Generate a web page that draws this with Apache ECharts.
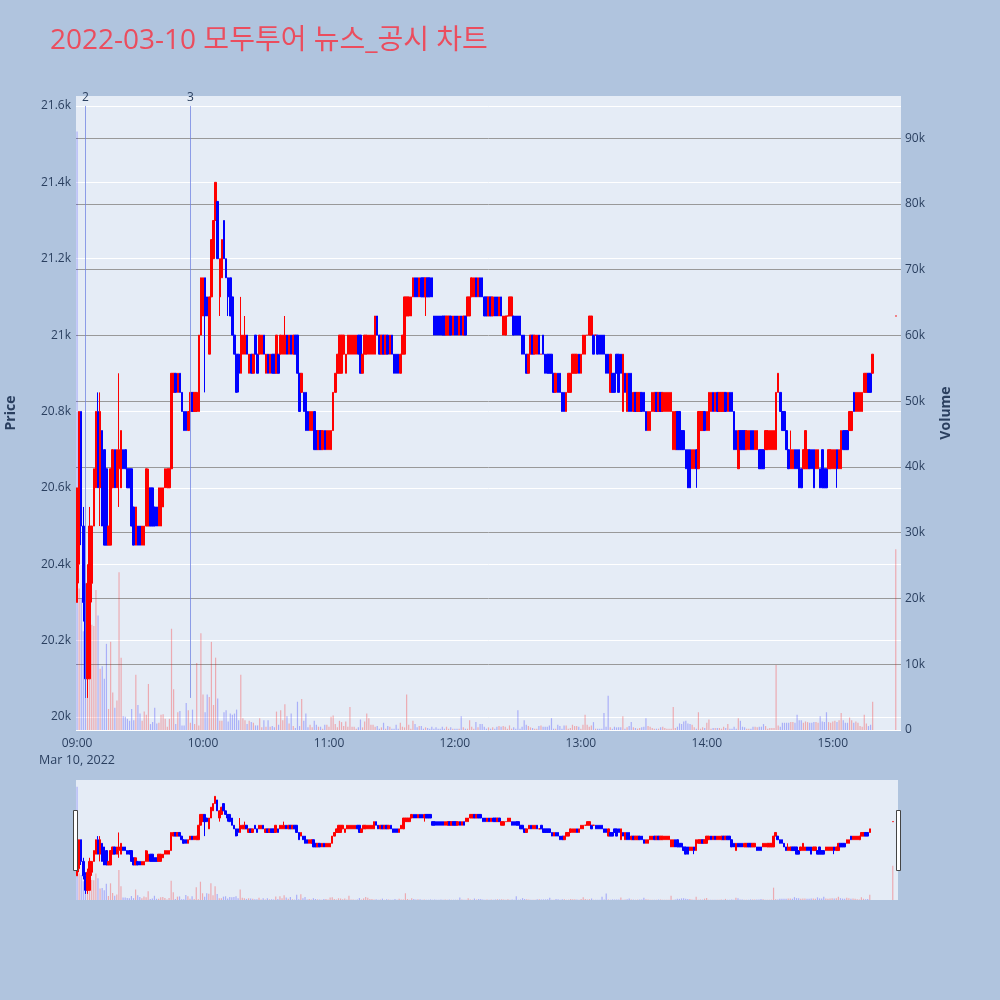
<!DOCTYPE html>
<html><head><meta charset="utf-8">
<script src="https://cdn.jsdelivr.net/npm/echarts@6/dist/echarts.min.js"></script>
<style>html,body{margin:0;padding:0;background:#b0c4de}#c{width:1000px;height:1000px}</style>
</head><body><div id="c"></div>
<script>
// minute candles 09:00..15:19, then the 15:30 closing auction
const opens=[20300,20400,20800,20500,20300,20100,20100,20350,20500,20600,
20800,20600,20750,20700,20650,20450,20450,20600,20700,20600,
20650,20600,20700,20700,20650,20650,20650,20550,20450,20500,
20500,20450,20450,20500,20500,20600,20600,20550,20550,20500,
20500,20550,20600,20600,20600,20650,20850,20900,20850,20900,
20850,20800,20800,20750,20800,20850,20800,20800,20800,21000,
21050,21150,21100,20950,21100,21200,21300,21350,21100,21150,
21300,21200,21150,21150,21100,21000,20950,20950,20900,20950,
20950,21000,20900,20950,20900,21000,20950,20950,20950,21000,
20900,20950,20900,20950,20950,20900,20950,20950,20950,20950,
21000,20950,21000,20950,21000,21000,20900,20850,20850,20850,
20800,20750,20750,20800,20750,20700,20750,20700,20750,20700,
20700,20700,20750,20850,20900,20900,20900,20950,20900,20950,
20950,20950,20950,20950,21000,21000,20900,20950,20950,20950,
20950,20950,20950,21050,21000,20950,21000,20950,21000,20950,
21000,20950,20950,20950,20900,20950,20950,21050,21050,21050,
21100,21150,21150,21100,21150,21150,21100,21150,21150,21150,
21050,21050,21050,21050,21050,21050,21000,21000,21050,21000,
21050,21050,21000,21050,21000,21050,21050,21050,21100,21100,
21150,21100,21150,21150,21100,21100,21050,21100,21050,21100,
21100,21050,21100,21000,21000,21050,21050,21050,21050,21050,
21050,21050,21000,21000,20950,20900,20950,21000,20950,20950,
21000,20950,21000,20950,20950,20950,20950,20900,20850,20900,
20900,20850,20850,20800,20850,20850,20900,20900,20900,20950,
20900,20950,20950,21000,21000,21000,21000,21000,21000,21000,
21000,21000,20950,20950,20850,20900,20900,20950,20950,20950,
20800,20900,20800,20900,20900,20800,20850,20800,20800,20850,
20850,20800,20750,20750,20800,20800,20850,20800,20850,20800,
20800,20800,20800,20800,20700,20700,20800,20800,20750,20750,
20700,20700,20700,20650,20650,20700,20650,20750,20750,20800,
20750,20750,20800,20850,20800,20850,20800,20800,20800,20850,
20800,20850,20850,20800,20750,20650,20750,20750,20750,20700,
20700,20750,20750,20700,20700,20700,20700,20700,20700,20700,
20700,20700,20700,20700,20850,20850,20800,20800,20750,20700,
20650,20650,20700,20700,20700,20650,20650,20650,20650,20700,
20700,20700,20650,20650,20650,20700,20650,20650,20650,20650,
20650,20650,20700,20650,20650,20750,20750,20750,20750,20750,
20850,20800,20800,20800,20800,20850,20850,20900,20900,20900,
21050];
const closes=[20600,20800,20500,20300,20100,20350,20500,20500,20650,20800,
20600,20800,20500,20450,20450,20500,20650,20700,20600,20700,
20700,20750,20650,20650,20600,20600,20500,20450,20550,20450,
20450,20500,20500,20650,20600,20500,20500,20500,20500,20600,
20600,20600,20650,20650,20650,20900,20900,20850,20900,20850,
20800,20750,20750,20800,20850,20800,20850,20850,21000,21150,
21150,21050,21050,21100,21250,21300,21400,21200,21200,21250,
21200,21150,21100,21050,21000,20950,20850,20900,21000,21000,
21000,20950,20950,20900,20950,20950,20900,21000,21000,20950,
20950,20900,20950,20900,20900,21000,20900,21000,21000,21000,
20950,21000,20950,21000,20950,20900,20800,20900,20800,20750,
20750,20800,20800,20700,20700,20750,20700,20750,20700,20750,
20750,20750,20850,20900,20950,21000,21000,21000,20950,21000,
21000,21000,21000,21000,20950,20900,20950,21000,21000,21000,
21000,21000,21050,21000,20950,21000,20950,21000,20950,21000,
20950,20900,20900,20900,20950,21000,21100,21100,21100,21100,
21150,21100,21100,21150,21100,21100,21150,21100,21100,21100,
21000,21000,21000,21000,21000,21000,21050,21050,21000,21050,
21000,21000,21050,21000,21050,21000,21100,21100,21150,21150,
21100,21150,21100,21100,21050,21050,21100,21050,21100,21050,
21050,21100,21050,21050,21050,21050,21100,21100,21000,21000,
21000,21000,20950,20950,20900,20950,21000,20950,21000,21000,
20950,20950,20950,20900,20900,20900,20900,20850,20900,20850,
20850,20800,20800,20850,20900,20900,20950,20950,20950,20900,
20950,21000,21000,21000,21050,21050,20950,21000,20950,20950,
20950,20950,20900,20900,20950,20850,20850,20900,20850,20900,
20950,20850,20900,20800,20800,20850,20800,20850,20850,20800,
20800,20750,20800,20800,20850,20850,20800,20850,20800,20850,
20850,20850,20850,20850,20800,20800,20700,20700,20700,20700,
20650,20600,20600,20700,20700,20650,20800,20800,20800,20750,
20800,20850,20850,20800,20850,20800,20850,20850,20850,20800,
20850,20800,20800,20700,20700,20750,20700,20700,20700,20750,
20750,20700,20700,20750,20750,20650,20650,20650,20750,20750,
20750,20750,20750,20850,20900,20800,20750,20750,20700,20650,
20700,20700,20650,20650,20600,20600,20700,20750,20700,20650,
20650,20600,20700,20700,20600,20600,20600,20600,20700,20700,
20700,20700,20650,20700,20750,20700,20700,20700,20800,20800,
20800,20850,20850,20850,20850,20900,20900,20850,20850,20950,
21050];
const lows=[20300,20350,20450,20250,20050,20050,20100,20300,20500,20600,
20600,20500,20500,20450,20450,20450,20450,20600,20600,20600,
20550,20600,20650,20650,20600,20600,20500,20450,20450,20450,
20450,20450,20450,20500,20500,20500,20500,20500,20500,20500,
20500,20550,20600,20600,20600,20650,20850,20850,20850,20850,
20800,20750,20750,20750,20800,20800,20800,20800,20800,21000,
21050,20850,21050,20950,21100,21200,21300,21200,21050,21150,
21200,21150,21050,21050,21000,20950,20850,20850,20900,20950,
20950,20950,20900,20900,20900,20950,20900,20950,20950,20950,
20900,20900,20900,20900,20900,20900,20900,20950,20950,20950,
20950,20950,20950,20950,20950,20900,20800,20850,20800,20750,
20750,20750,20750,20700,20700,20700,20700,20700,20700,20700,
20700,20700,20750,20850,20900,20900,20900,20950,20900,20950,
20950,20950,20950,20950,20950,20900,20900,20950,20950,20950,
20950,20950,20950,21000,20950,20950,20950,20950,20950,20950,
20950,20900,20900,20900,20900,20950,20950,21050,21050,21050,
21100,21100,21100,21100,21100,21100,21050,21100,21100,21100,
21000,21000,21000,21000,21000,21000,21000,21000,21000,21000,
21000,21000,21000,21000,21000,21000,21050,21050,21100,21100,
21100,21100,21100,21100,21050,21050,21050,21050,21050,21050,
21050,21050,21050,21000,21000,21050,21050,21050,21000,21000,
21000,21000,20950,20950,20900,20900,20950,20950,20950,20950,
20950,20950,20950,20900,20900,20900,20900,20850,20850,20850,
20850,20800,20800,20800,20850,20850,20900,20900,20900,20900,
20900,20950,20950,21000,21000,21000,20950,21000,20950,20950,
20950,20950,20900,20900,20850,20850,20850,20900,20850,20900,
20800,20850,20800,20800,20800,20800,20800,20800,20800,20800,
20800,20750,20750,20750,20800,20800,20800,20800,20800,20800,
20800,20800,20800,20800,20700,20700,20700,20700,20700,20700,
20650,20600,20600,20650,20650,20600,20650,20750,20750,20750,
20750,20750,20800,20800,20800,20800,20800,20800,20800,20800,
20800,20800,20800,20700,20700,20650,20700,20700,20700,20700,
20700,20700,20700,20700,20700,20650,20650,20650,20700,20700,
20700,20700,20700,20700,20850,20800,20750,20750,20700,20650,
20650,20650,20650,20650,20600,20600,20650,20650,20650,20650,
20650,20600,20650,20650,20600,20600,20600,20600,20650,20650,
20650,20650,20600,20650,20650,20700,20700,20700,20750,20750,
20800,20800,20800,20800,20800,20850,20850,20850,20850,20900,
21050];
const highs=[20600,20800,20800,20550,20350,20400,20550,20500,20650,20800,
20850,20850,20750,20700,20650,20500,20650,20700,20700,20700,
20900,20750,20700,20700,20650,20650,20650,20550,20550,20500,
20500,20500,20500,20650,20650,20600,20600,20550,20550,20600,
20600,20600,20650,20650,20650,20900,20900,20900,20900,20900,
20850,20800,20800,20800,20850,20850,20850,20850,21000,21150,
21150,21150,21100,21100,21250,21300,21400,21350,21200,21250,
21300,21200,21150,21150,21100,21000,20950,20950,21100,21000,
21050,21000,20950,20950,20950,21000,20950,21000,21000,21000,
20950,20950,20950,20950,20950,21000,20950,21000,21000,21050,
21000,21000,21000,21000,21000,21000,20900,20900,20850,20850,
20800,20800,20800,20800,20750,20750,20750,20750,20750,20750,
20750,20750,20850,20900,20950,21000,21000,21000,20950,21000,
21000,21000,21000,21000,21000,21000,20950,21000,21000,21000,
21000,21000,21050,21050,21000,21000,21000,21000,21000,21000,
21000,20950,20950,20950,20950,21000,21100,21100,21100,21100,
21150,21150,21150,21150,21150,21150,21150,21150,21150,21150,
21050,21050,21050,21050,21050,21050,21050,21050,21050,21050,
21050,21050,21050,21050,21050,21050,21100,21100,21150,21150,
21150,21150,21150,21150,21100,21100,21100,21100,21100,21100,
21100,21100,21100,21050,21050,21050,21100,21100,21050,21050,
21050,21050,21000,21000,20950,20950,21000,21000,21000,21000,
21000,20950,21000,20950,20950,20950,20950,20900,20900,20900,
20900,20850,20850,20850,20900,20900,20950,20950,20950,20950,
20950,21000,21000,21000,21050,21050,21000,21000,21000,21000,
21000,21000,20950,20950,20950,20900,20900,20950,20950,20950,
20950,20900,20900,20900,20900,20850,20850,20850,20850,20850,
20850,20800,20800,20800,20850,20850,20850,20850,20850,20850,
20850,20850,20850,20850,20800,20800,20800,20800,20750,20750,
20700,20700,20700,20700,20700,20700,20800,20800,20800,20800,
20800,20850,20850,20850,20850,20850,20850,20850,20850,20850,
20850,20850,20850,20800,20750,20750,20750,20750,20750,20750,
20750,20750,20750,20750,20750,20700,20700,20700,20750,20750,
20750,20750,20750,20850,20900,20850,20800,20800,20750,20700,
20750,20700,20700,20700,20700,20650,20700,20750,20700,20700,
20700,20700,20700,20700,20650,20700,20650,20650,20700,20700,
20700,20700,20700,20700,20750,20750,20750,20750,20800,20800,
20850,20850,20850,20850,20850,20900,20900,20900,20900,20950,
21050];
const volumes=[91000,21500,20000,15000,17000,12000,8000,16000,15800,21300,
17400,9300,9700,7800,13100,3200,13400,5700,3400,4500,
24000,11000,2100,2000,1700,1400,3200,1500,8400,3800,
2500,1400,2800,2300,7000,900,1200,3400,1000,1100,
2300,2400,1700,500,1700,15400,6200,900,2700,2900,
700,700,4100,3000,1100,3100,900,10200,700,14700,
5400,2700,5400,5000,13400,3800,11000,4800,1400,1400,
2700,3000,1300,2500,2300,2500,3100,1500,8400,1800,
1500,900,1400,1200,1100,700,700,1800,400,1500,
500,1500,500,600,400,2800,800,3000,1500,3900,
2100,1000,2500,600,300,4300,600,4700,1400,2500,
400,800,400,1400,800,500,500,200,800,800,
500,2000,2200,900,400,1400,1200,600,1300,500,
3500,500,500,200,400,1600,400,1300,2500,1800,
800,800,500,600,200,400,1100,200,600,500,
200,200,800,200,1100,500,400,5400,800,200,
1400,900,400,600,600,200,400,300,200,500,
200,400,200,200,500,200,500,200,400,200,
200,200,200,2100,400,200,200,1500,500,200,
1200,400,900,900,500,200,400,200,400,200,
500,600,500,600,500,200,700,200,400,200,
3000,200,500,1500,800,600,400,300,200,200,
600,700,500,500,500,700,1800,200,200,800,
600,200,700,700,200,300,800,600,600,500,
200,800,2300,800,500,700,1200,200,200,200,
200,2600,500,5200,400,200,500,400,400,400,
2100,200,400,600,1200,400,300,200,300,400,
500,1800,600,500,300,200,200,200,400,500,
300,200,200,200,3500,300,500,1000,900,1300,
1400,1000,900,800,400,200,2700,200,400,300,
1100,1600,200,300,300,300,300,200,500,300,
900,200,200,500,200,1800,1400,500,400,200,
200,200,500,500,400,500,500,900,600,200,
300,300,300,9900,700,500,1100,1100,1100,1100,
1200,1200,1100,2300,1500,1500,1100,1300,1200,1100,
1100,1200,1200,1100,2100,1300,1200,2700,1200,1100,
1300,1400,1200,1500,2600,1500,1100,1100,1900,1500,
1100,1300,1100,600,500,2300,1000,600,800,4300,
27500];
const newsMarks=[{time:'09:04',label:'2'},{time:'09:54',label:'3'}];
const newsSpan=[20050,21600];
const priceTicks=[20000,20200,20400,20600,20800,21000,21200,21400,21600];
const volumeTicks=[0,10000,20000,30000,40000,50000,60000,70000,80000,90000];

const pad=n=>(n<10?'0':'')+n;
const times=[];
for(let m=0;m<=392;m++){times.push(pad(9+Math.floor(m/60))+':'+pad(m%60));}
const lastSession=380; // 09:00..15:19 continuous trading
const auctionMinute=390; // 15:30 closing auction
const candleData=[], volData=[];
for(let m=0;m<times.length;m++){
  let k=-1;
  if(m<lastSession)k=m; else if(m===auctionMinute)k=opens.length-1;
  if(k<0){candleData.push(['-','-','-','-']);volData.push('-');continue;}
  const up=closes[k]>=opens[k];
  const item={value:[opens[k],closes[k],lows[k],highs[k]]};
  if(closes[k]===opens[k])item.itemStyle={color:'#ff0000',borderColor:'#ff0000',color0:'#ff0000',borderColor0:'#ff0000'};
  candleData.push(item);
  const volUp=up&&k!==0;
  volData.push({value:volumes[k],itemStyle:{color:volUp?'rgba(255,0,0,0.28)':'rgba(0,0,255,0.26)'}});
}
const font='"Open Sans", "Noto Sans CJK KR", sans-serif';
const txt='#2a3f5f';
const chart=echarts.init(document.getElementById('c'),null,{renderer:'canvas'});
const candleStyle={color:'#ff0000',color0:'#0000ff',borderColor:'#ff0000',borderColor0:'#0000ff',borderWidth:1};
chart.setOption({
  backgroundColor:'#b0c4de',
  animation:false,
  textStyle:{fontFamily:font},
  title:{text:'2022-03-10 모두투어 뉴스_공시 차트',left:50,top:27,padding:0,textStyle:{fontFamily:font,fontSize:28,fontWeight:'normal',color:'#eb4d5e'}},
  grid:[
    {left:76,right:99,top:96,height:634,show:true,backgroundColor:'#e5ecf6',borderWidth:0,outerBoundsMode:'none',containLabel:false},
    {left:76,right:102,top:780,height:120,show:true,backgroundColor:'#e5ecf6',borderWidth:0,outerBoundsMode:'none',containLabel:false}
  ],
  xAxis:[
    {type:'category',gridIndex:0,data:times,boundaryGap:true,axisLine:{show:false},axisTick:{show:false},splitLine:{show:false},
     axisLabel:{color:txt,fontSize:12,fontFamily:font,margin:6,lineHeight:16,interval:(i,v)=>v.endsWith(':00'),
       formatter:v=>v==='09:00'?'09:00\n{d|Mar 10, 2022}':v,rich:{d:{fontSize:12.5,color:txt,fontFamily:font}}}},
    {type:'category',gridIndex:1,data:times,boundaryGap:true,show:false}
  ],
  yAxis:[
    {type:'value',gridIndex:0,position:'left',min:19966,max:21626,splitNumber:8,
     name:'Price',nameLocation:'middle',nameGap:58,nameRotate:90,nameTextStyle:{color:txt,fontSize:14,fontWeight:'bold',fontFamily:font},
     axisLine:{show:false},axisTick:{show:false},
     axisLabel:{color:txt,fontSize:12,fontFamily:font,margin:5,
       formatter:v=>priceTicks.includes(v)?(v/1000)+'k':''},
     splitLine:{show:true,showMaxLine:false,lineStyle:{color:'#ffffff',width:1}}},
    {type:'value',gridIndex:0,position:'right',min:0,max:96400,interval:10000,
     name:'Volume',nameLocation:'middle',nameGap:38,nameRotate:90,nameTextStyle:{color:txt,fontSize:14,fontWeight:'bold',fontFamily:font},
     axisLine:{show:false},axisTick:{show:false},
     axisLabel:{color:txt,fontSize:12,fontFamily:font,margin:4,formatter:v=>volumeTicks.includes(v)?(v===0?'0':(v/1000)+'k'):''},
     splitLine:{show:true,showMinLine:false,showMaxLine:false,lineStyle:{color:'#999999',width:1}}},
    {type:'value',gridIndex:1,min:19966,max:21626,show:false,splitLine:{show:false}},
    {type:'value',gridIndex:1,min:0,max:96400,show:false,splitLine:{show:false}}
  ],
  series:[
    {type:'bar',name:'Volume',xAxisIndex:0,yAxisIndex:1,data:volData,barWidth:1.2,z:1},
    {type:'candlestick',name:'Price',xAxisIndex:0,yAxisIndex:0,data:candleData,barWidth:2,itemStyle:candleStyle,z:3,
     markLine:{symbol:['none','none'],silent:true,animation:false,
       lineStyle:{color:'rgba(110,130,225,0.75)',width:1,type:'solid'},
       label:{show:true,position:'end',distance:2,color:txt,fontSize:12,fontFamily:font},
       data:newsMarks.map(n=>[{coord:[n.time,newsSpan[0]],label:{formatter:n.label}},{coord:[n.time,newsSpan[1]]}])}},
    {type:'bar',xAxisIndex:1,yAxisIndex:3,data:volData,barWidth:1.2,z:1},
    {type:'candlestick',xAxisIndex:1,yAxisIndex:2,data:candleData,barWidth:2,itemStyle:candleStyle,z:3}
  ],
  graphic:[
    {type:'rect',shape:{x:73.5,y:810.5,width:4,height:60},style:{fill:'#ffffff',stroke:'#444444',lineWidth:1},z:100},
    {type:'rect',shape:{x:896.5,y:810.5,width:4,height:60},style:{fill:'#ffffff',stroke:'#444444',lineWidth:1},z:100}
  ]
});
</script></body></html>
